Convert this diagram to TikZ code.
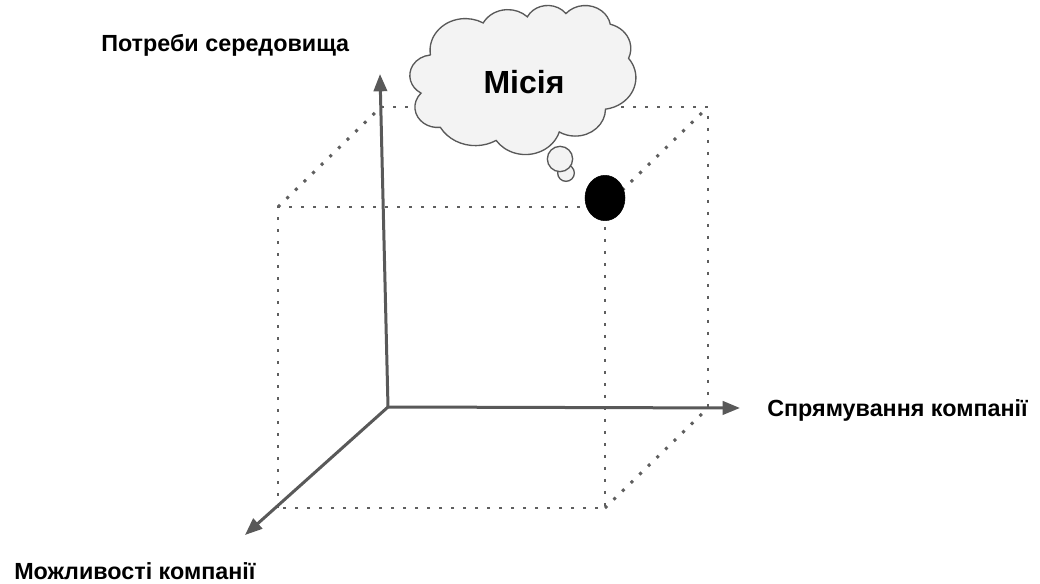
\documentclass[tikz,border=0pt]{standalone}
\usepackage{fontspec}
\setmainfont{Liberation Sans}
\usetikzlibrary{arrows.meta,shapes.geometric}
\definecolor{axisgray}{HTML}{595959}
\definecolor{dotgray}{HTML}{5E5E5E}
\definecolor{cloudfill}{HTML}{F3F3F3}
\tikzset{
  axisline/.style={draw=axisgray,line width=2.25pt,-{Triangle[length=13pt,width=10pt]}},
  dotline/.style={draw=dotgray,line width=2.2pt,dash pattern=on 2.2pt off 6.8pt},
  axislabel/.style={font=\bfseries\fontsize{17.5pt}{20pt}\selectfont,anchor=base west,inner sep=0pt},
  bubble/.style={draw=axisgray,fill=cloudfill,line width=1pt}
}
\newcommand\mkcloudarc[5]{%
  \pgfmathsetmacro\tmpA{atan2(#2*sin(#4), #3*cos(#4))}%
  \pgfmathsetmacro\tmpB{atan2(#2*sin(#4+#5), #3*cos(#4+#5))}%
  \pgfmathsetmacro\tmpD{\tmpB-\tmpA}%
  \pgfmathsetmacro\tmpD{\tmpD<0 ? \tmpD+360 : \tmpD}%
  \pgfmathsetmacro\tmpE{\tmpA+\tmpD}%
  \expandafter\let\csname ta#1\endcsname\tmpA
  \expandafter\let\csname tb#1\endcsname\tmpE
}
\begin{document}
\begin{tikzpicture}[x=0.75pt,y=-0.75pt]
\useasboundingbox (0,0) rectangle (1040,584);
% cube corners
\coordinate (ftl) at (278,207);
\coordinate (ftr) at (605,207);
\coordinate (fbl) at (278,508);
\coordinate (fbr) at (605,508);
\coordinate (btl) at (381,107);
\coordinate (btr) at (708,107);
\coordinate (bbr) at (708,408);
% dotted cube
\draw[dotline] (btl) -- (btr) -- (bbr);
\draw[dotline] (ftl) -- (btl);
\draw[dotline] (ftr) -- (btr);
\draw[dotline] (fbr) -- (bbr);
\draw[dotline] (fbl) -- (ftl) -- (ftr) -- (fbr) -- (fbl);
% axes
\coordinate (O) at (388,407);
\coordinate (ytip) at (380,74);
\coordinate (xtip) at (740,408);
\coordinate (ztip) at (245,535);
\draw[axisline] (O) -- (ytip);
\draw[axisline] (O) -- (xtip);
\draw[axisline] (O) -- (ztip);
% labels
\node[axislabel] (lblY) at (101,52) {Потреби середовища};
\node[axislabel] (lblX) at (767,417) {Спрямування компанії};
\node[axislabel] (lblZ) at (14,580) {Можливості компанії};
% ball
\node[draw=black,fill=black,ellipse,minimum width=30pt,minimum height=34pt,inner sep=0pt] (ball) at (605,198) {};
% thought bubbles
\node[bubble,circle,minimum size=12.5pt,inner sep=0pt] (b2) at (566,173) {};
\node[bubble,circle,minimum size=19pt,inner sep=0pt] (b1) at (560,159) {};
% cloud (preset cloud geometry, box 432 x 432)
\mkcloudarc{A}{67.53}{91.90}{-190.4875}{123.7805}
\mkcloudarc{B}{53.33}{72.67}{-144.1024}{89.9452}
\mkcloudarc{C}{43.65}{59.45}{-145.8079}{99.7230}
\mkcloudarc{D}{48.57}{65.95}{-130.9861}{117.2417}
\mkcloudarc{E}{53.33}{72.73}{-78.7089}{109.0269}
\mkcloudarc{F}{67.75}{92.20}{-46.2673}{130.2690}
\mkcloudarc{G}{57.85}{78.67}{0.6250}{114.0333}
\mkcloudarc{H}{67.52}{92.15}{22.4516}{115.1726}
\mkcloudarc{I}{77.20}{105.43}{66.2426}{75.7110}
\mkcloudarc{J}{43.60}{59.18}{-274.9421}{146.7356}
\mkcloudarc{K}{43.45}{59.45}{-246.8285}{152.5189}
\begin{scope}[shift={(410,5)},x=0.392pt,y=-0.2587pt]
\draw[bubble] (39,143.7)
  arc[start angle=\taA,end angle=\tbA,x radius=67.53,y radius=91.90]
  arc[start angle=\taB,end angle=\tbB,x radius=53.33,y radius=72.67]
  arc[start angle=\taC,end angle=\tbC,x radius=43.65,y radius=59.45]
  arc[start angle=\taD,end angle=\tbD,x radius=48.57,y radius=65.95]
  arc[start angle=\taE,end angle=\tbE,x radius=53.33,y radius=72.73]
  arc[start angle=\taF,end angle=\tbF,x radius=67.75,y radius=92.20]
  arc[start angle=\taG,end angle=\tbG,x radius=57.85,y radius=78.67]
  arc[start angle=\taH,end angle=\tbH,x radius=67.52,y radius=92.15]
  arc[start angle=\taI,end angle=\tbI,x radius=77.20,y radius=105.43]
  arc[start angle=\taJ,end angle=\tbJ,x radius=43.60,y radius=59.18]
  arc[start angle=\taK,end angle=\tbK,x radius=43.45,y radius=59.45]
  -- cycle;
\end{scope}
\node[font=\bfseries\fontsize{24pt}{28pt}\selectfont,inner sep=0pt,anchor=base] (mission) at (524,94) {Місія};
\end{tikzpicture}
\end{document}
